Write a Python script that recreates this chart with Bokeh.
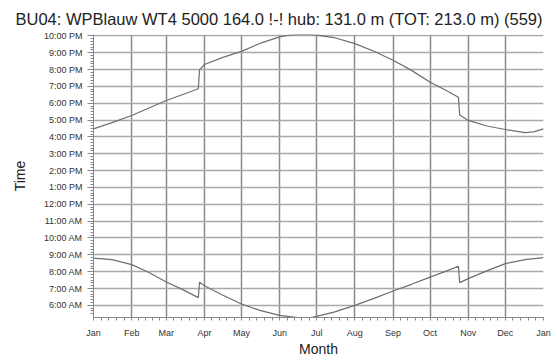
from bokeh.plotting import figure
from bokeh.models import FixedTicker, Range1d
from bokeh.embed import file_html
from bokeh.resources import INLINE

# ---- data (day of year, time in decimal hours) ----
month_names = ["Jan", "Feb", "Mar", "Apr", "May", "Jun", "Jul",
               "Aug", "Sep", "Oct", "Nov", "Dec", "Jan"]
month_days = [0, 31, 59, 90, 120, 151, 181, 212, 243, 273, 304, 334, 365]

hour_ticks = list(range(6, 23))
hour_labels = [f"{(h - 1) % 12 + 1}:00 {'AM' if h < 12 else 'PM'}" for h in hour_ticks]

upper_days = [0, 15, 31, 45, 59, 72, 85, 86, 90, 105, 120, 135, 151, 160, 172,
              181, 195, 212, 227, 243, 258, 273, 285, 296, 297, 304, 319, 334,
              350, 357, 365]
upper_time = [16.48, 16.85, 17.27, 17.72, 18.16, 18.5, 18.86, 19.98, 20.3, 20.72,
              21.08, 21.55, 21.94, 22.05, 22.1, 22.04, 21.9, 21.54, 21.1, 20.55,
              19.95, 19.25, 18.8, 18.36, 17.3, 16.98, 16.65, 16.44, 16.25, 16.3,
              16.48]

lower_days = [0, 15, 31, 45, 59, 72, 85, 86, 90, 105, 120, 135, 151, 165, 175,
              181, 195, 212, 227, 243, 258, 273, 285, 296, 297, 304, 319, 334,
              350, 365]
lower_time = [8.81, 8.72, 8.42, 7.95, 7.39, 6.95, 6.46, 7.38, 7.17, 6.6, 6.08,
              5.7, 5.41, 5.27, 5.25, 5.35, 5.6, 6.0, 6.4, 6.85, 7.25, 7.68, 8.0,
              8.32, 7.35, 7.59, 8.05, 8.48, 8.72, 8.83]

title_text = "BU04: WPBlauw  WT4 5000 164.0 !-! hub: 131.0 m (TOT: 213.0 m) (559)"

FONT = "Liberation Sans"

p = figure(width=557, height=360, output_backend="svg", toolbar_location=None,
           x_range=Range1d(0, 365), y_range=Range1d(5.28, 22.08),
           min_border_left=93, min_border_right=14, min_border_top=34,
           min_border_bottom=43, title=title_text)
p.outline_line_color = None
p.background_fill_color = "white"

p.title.text_font = FONT
p.title.text_font_size = "16.5px"
p.title.text_font_style = "normal"
p.title.text_color = "#222222"
p.title.align = "left"
p.title.offset = -78
p.title.standoff = 13

p.line(upper_days, upper_time, line_color="#6e6e6e", line_width=1.2)
p.line(lower_days, lower_time, line_color="#6e6e6e", line_width=1.2)

# minor ticks
x_minor = []
for a, b in zip(month_days[:-1], month_days[1:]):
    for k in range(1, 5):
        x_minor.append(a + (b - a) * k / 5)
y_minor = [5.5 + i / 6 for i in range(0, 100) if 5.3 < 5.5 + i / 6 < 22.05]

p.xaxis.ticker = FixedTicker(ticks=month_days, minor_ticks=x_minor)
p.xaxis.major_label_overrides = {d: n for d, n in zip(month_days, month_names)}
p.yaxis.ticker = FixedTicker(ticks=hour_ticks, minor_ticks=y_minor)
p.yaxis.major_label_overrides = {h: l for h, l in zip(hour_ticks, hour_labels)}

p.xaxis.axis_label = "Month"
p.yaxis.axis_label = "Time"

for ax in (p.xaxis[0], p.yaxis[0]):
    ax.axis_line_color = "#888888"
    ax.major_tick_line_color = "#888888"
    ax.minor_tick_line_color = "#888888"
    ax.major_label_text_font = FONT
    ax.major_label_text_font_size = "9px"
    ax.major_label_text_color = "#333333"
    ax.axis_label_text_font = FONT
    ax.axis_label_text_font_size = "14px"
    ax.axis_label_text_font_style = "normal"
    ax.axis_label_text_color = "#222222"

p.yaxis.major_tick_out = 6
p.yaxis.major_tick_in = 0
p.yaxis.minor_tick_out = 3
p.yaxis.minor_tick_in = 0
p.yaxis.major_label_standoff = 5
p.yaxis.axis_label_standoff = 13

p.xaxis.major_tick_out = 3
p.xaxis.major_tick_in = 0
p.xaxis.minor_tick_out = 3
p.xaxis.minor_tick_in = 0
p.xaxis.major_label_standoff = 7
p.xaxis.axis_label_standoff = 0

p.xgrid.ticker = FixedTicker(ticks=month_days)
p.ygrid.ticker = FixedTicker(ticks=hour_ticks)
p.xgrid.grid_line_color = "#8a8a8a"
p.xgrid.grid_line_width = 1.5
p.ygrid.grid_line_color = "#a8a8a8"
p.ygrid.grid_line_width = 1.5

open("out.html", "w").write(file_html(p, INLINE))
